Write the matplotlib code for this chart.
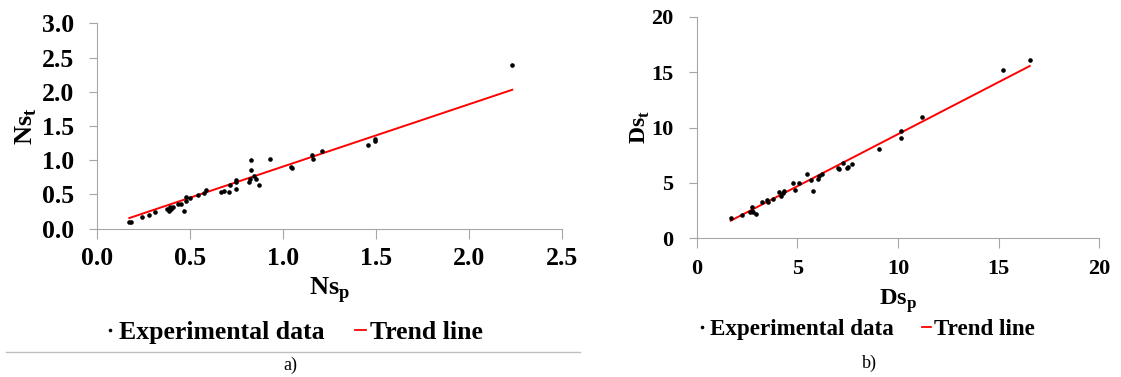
import matplotlib
matplotlib.use('Agg')
import matplotlib.pyplot as plt
from matplotlib.lines import Line2D
import numpy as np

plt.rcParams['font.family'] = ['Liberation Serif', 'DejaVu Serif']
plt.rcParams['mathtext.fontset'] = 'custom'
plt.rcParams['mathtext.rm'] = 'Liberation Serif'
plt.rcParams['mathtext.bf'] = 'Liberation Serif:bold'

# a) Ns: predicted vs tested
ns_p = [0.175, 0.182, 0.241, 0.282, 0.311, 0.380, 0.388, 0.398, 0.407, 0.393,
        0.438, 0.452, 0.468, 0.477, 0.482, 0.500, 0.543, 0.575, 0.589, 0.666,
        0.684, 0.709, 0.714, 0.746, 0.750, 0.750, 0.818, 0.821, 0.829, 0.829,
        0.845, 0.854, 0.873, 0.932, 1.045, 1.050, 1.155, 1.164, 1.209, 1.459,
        1.493, 1.493, 2.232]
ns_t = [0.093, 0.093, 0.166, 0.205, 0.239, 0.288, 0.263, 0.288, 0.322, 0.322,
        0.356, 0.356, 0.263, 0.468, 0.405, 0.444, 0.493, 0.517, 0.566, 0.532,
        0.551, 0.541, 0.639, 0.576, 0.707, 0.678, 0.683, 0.722, 1.005, 0.854,
        0.771, 0.727, 0.634, 1.015, 0.907, 0.883, 1.078, 1.015, 1.137, 1.220,
        1.288, 1.307, 2.385]
ns_trend = [0.911, -0.004]  # slope, intercept

# b) Ds: predicted vs tested
ds_p = [1.69, 2.24, 2.65, 2.76, 2.76, 2.81, 2.93, 3.26, 3.48, 3.56,
        3.81, 4.09, 4.19, 4.27, 4.32, 4.80, 4.87, 5.08, 5.46, 5.68,
        5.79, 6.04, 6.09, 6.21, 7.04, 7.07, 7.25, 7.45, 7.50, 7.73,
        9.07, 10.15, 10.15, 11.21, 15.23, 16.54]
ds_t = [1.80, 2.11, 2.35, 2.80, 2.50, 2.41, 2.23, 3.25, 3.46, 3.25,
        3.52, 4.15, 3.85, 4.06, 4.27, 5.02, 4.36, 5.02, 5.80, 5.26,
        4.30, 5.32, 5.65, 5.77, 6.38, 6.23, 6.77, 6.32, 6.47, 6.71,
        8.03, 9.71, 9.02, 10.98, 15.19, 16.06]
ds_trend = [0.940, 0.001]

ns_xticks = [0.0, 0.5, 1.0, 1.5, 2.0, 2.5]
ns_yticks = [0.0, 0.5, 1.0, 1.5, 2.0, 2.5, 3.0]
ds_ticks = [0, 5, 10, 15, 20]

GRAY = '#a6a6a6'

fig = plt.figure(figsize=(11.21, 3.77), dpi=100)
ax1 = fig.add_axes([0.0863, 0.3934, 0.4152, 0.5448])
ax2 = fig.add_axes([0.6215, 0.3679, 0.3592, 0.5878])


def style_axes(ax, size, xpad, ypad):
    for s in ['top', 'right']:
        ax.spines[s].set_visible(False)
    for s in ['left', 'bottom']:
        ax.spines[s].set_color(GRAY)
        ax.spines[s].set_linewidth(0.8)
    ax.tick_params(axis='both', direction='out', color=GRAY, width=0.8,
                   labelsize=size)
    ax.tick_params(axis='x', length=7, pad=xpad)
    ax.tick_params(axis='y', length=6, pad=ypad)
    for lab in ax.get_xticklabels() + ax.get_yticklabels():
        lab.set_fontweight('bold')


def draw_panel(ax, xs, ys, trend):
    ax.plot(xs, ys, 'o', color='black', ms=3.3, mec='none', zorder=3)
    xl = np.array([min(xs), max(xs)])
    ax.plot(xl, trend[0] * xl + trend[1], color='red', lw=1.4, zorder=2)


draw_panel(ax1, ns_p, ns_t, ns_trend)
ax1.set_xlim(0, 2.5)
ax1.set_ylim(0, 3.0)
ax1.set_xticks(ns_xticks)
ax1.set_yticks(ns_yticks)
ax1.set_xticklabels([f'{v:.1f}' for v in ns_xticks])
ax1.set_yticklabels([f'{v:.1f}' for v in ns_yticks])
style_axes(ax1, 18.5, 6, 10)
ax1.set_xlabel(r'$\mathbf{Ns}_\mathbf{p}$', fontsize=19)
ax1.xaxis.set_label_coords(0.5, -0.225)
ax1.set_ylabel(r'$\mathbf{Ns}_\mathbf{t}$', fontsize=19)
ax1.yaxis.set_label_coords(-0.125, 0.5)

draw_panel(ax2, ds_p, ds_t, ds_trend)
ax2.set_xlim(0, 20)
ax2.set_ylim(0, 20)
ax2.set_xticks(ds_ticks)
ax2.set_yticks(ds_ticks)
style_axes(ax2, 16, 8, 11)
ax2.set_xlabel(r'$\mathbf{Ds}_\mathbf{p}$', fontsize=17.5)
ax2.xaxis.set_label_coords(0.5, -0.22)
ax2.set_ylabel(r'$\mathbf{Ds}_\mathbf{t}$', fontsize=17)
ax2.yaxis.set_label_coords(-0.112, 0.5)

# legends under each panel
handles = [Line2D([], [], ls='none', marker='o', ms=2.6, color='black', mec='none'),
           Line2D([], [], color='red', lw=1.3)]
names = ['Experimental data', 'Trend line']
for cx, cy, fs in [(0.262, 0.119, 18.5), (0.773, 0.125, 16.6)]:
    fig.legend(handles, names, loc='center', bbox_to_anchor=(cx, cy), ncol=2,
               frameon=False, handlelength=0.4, handletextpad=0.15,
               columnspacing=1.2, prop={'weight': 'bold', 'size': fs})

# separator line and captions
fig.add_artist(Line2D([0.005, 0.517], [0.066, 0.066], color='#bfbfbf', lw=1.0))
fig.text(0.259, 0.031, 'a)', ha='center', va='center', fontsize=13)
fig.text(0.776, 0.037, 'b)', ha='center', va='center', fontsize=13)

fig.savefig('out.png', dpi=100)
